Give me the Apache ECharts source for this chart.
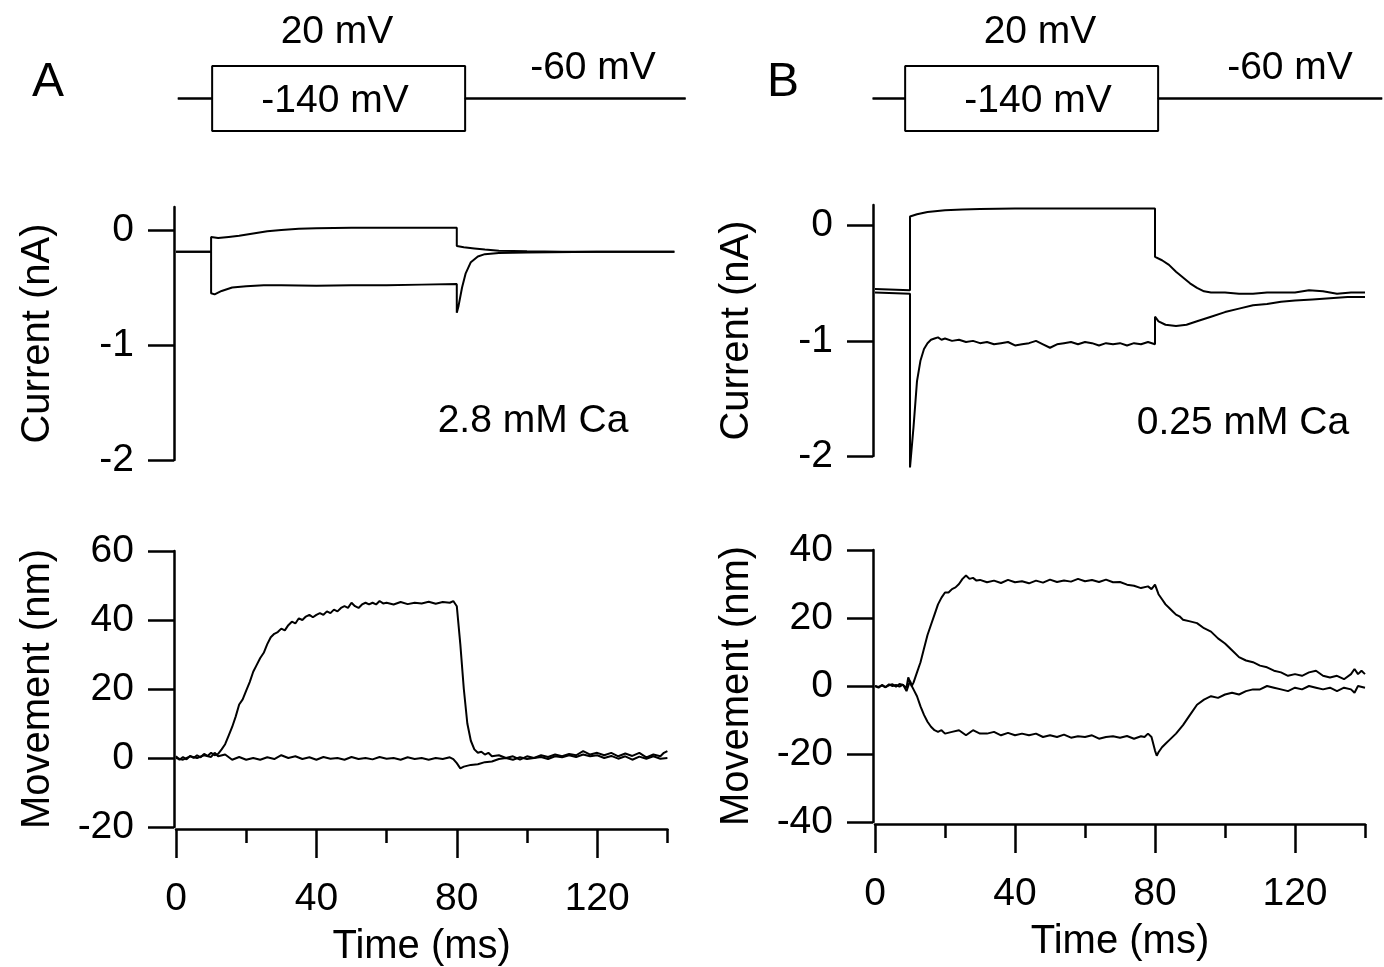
<!DOCTYPE html>
<html>
<head>
<meta charset="utf-8">
<script src="https://cdn.jsdelivr.net/npm/echarts@6/dist/echarts.min.js"></script>
<style>html,body{margin:0;padding:0;background:#fff;}#c{width:1384px;height:967px;}</style>
</head>
<body>
<div id="c"></div>
<script>
// ---- Voltage protocol (ms, mV) ----
const protoTimesA = [0.5, 10, 10, 80, 80, 141];
const protoTimesB = [1, 10, 10, 80, 80, 142];
const protoUp   = [-60, -60, 20, 20, -60, -60];
const protoDown = [-60, -60, -140, -140, -60, -60];

// ---- Panel A: current (nA), 2.8 mM Ca ----
const curA_up = [[0,-0.19],[10,-0.19],[10,-0.06],[12,-0.07],[15,-0.06],[18,-0.05],[22,-0.03],[26,-0.01],[30,0.0],[35,0.01],[40,0.015],[50,0.02],[60,0.02],[70,0.02],[80,0.02],[80,-0.14],[82,-0.15],[85,-0.16],[88,-0.17],[92,-0.18],[100,-0.185],[110,-0.19],[120,-0.19],[130,-0.19],[142,-0.19]];
const curA_down = [[0,-0.19],[10,-0.19],[10,-0.55],[11,-0.56],[13,-0.53],[16,-0.5],[20,-0.49],[25,-0.48],[30,-0.48],[40,-0.485],[50,-0.48],[60,-0.48],[70,-0.475],[80,-0.47],[80,-0.72],[80.5,-0.66],[81.5,-0.5],[82.5,-0.38],[84,-0.28],[86,-0.23],[88,-0.21],[92,-0.2],[100,-0.195],[120,-0.19],[142,-0.19]];

// ---- Panel A: movement (nm) ----
const movA_up = [[0,0.5],[1,-0.5],[2,0.3],[3,-0.4],[4,0.6],[5,0],[6,0.8],[7,0.2],[8,1.2],[9,0.6],[10,1.5],[11,0.8],[12,1.2],[13,2.5],[14,4],[15,6.5],[16,9],[17,12],[18,15.5],[19,17],[20,19.5],[21,22],[22,25],[23,27],[24,29],[25,30.5],[26,33],[27,35],[28,36],[29,36.5],[30,37.5],[31,37],[32,38.5],[33,39.5],[34,39],[35,40.5],[36,40],[37,41],[38,41.5],[39,40.8],[40,41.5],[41,42],[42,41.5],[43,42.5],[44,42],[45,43],[46,42.5],[47,43.5],[48,44],[49,43.5],[50,45],[51,44],[52,43.5],[53,44.5],[54,45],[55,44.5],[56,45],[57,44.5],[58,45.5],[59,44.8],[60,45],[62,44.5],[64,45.2],[66,44.6],[68,45],[70,44.8],[72,45.3],[74,44.7],[76,45.2],[78,45],[79,45.5],[80,44],[81,33],[82,20],[83,10],[84,5],[85,2.5],[86,1.5],[87,1.8],[88,1],[89,1.5],[90,0.5],[92,0.8],[94,0],[96,0.5],[98,-0.5],[100,0.5],[102,0],[104,0.8],[106,0.3],[108,1],[110,0.5],[112,1.2],[114,0.8],[116,2],[118,1],[120,1.5],[122,0.8],[124,1.5],[126,0.5],[128,1.3],[130,0.6],[132,1.5],[134,0.2],[136,1],[138,0.5],[139,1.5],[140,2]];
const movA_down = [[0,0],[2,-0.5],[4,0.5],[6,0],[8,0.8],[10,0.3],[11,1.5],[12,0.5],[14,1],[16,-0.5],[18,0.3],[20,-0.5],[22,0],[24,-0.5],[26,0.2],[28,-0.3],[30,0.8],[32,0],[34,0.5],[36,-0.3],[38,0.2],[40,-0.5],[42,0.3],[44,-0.2],[46,0],[48,-0.5],[50,0.3],[52,-0.3],[54,0],[56,-0.4],[58,0.3],[60,-0.2],[62,0],[64,-0.5],[66,0.2],[68,-0.3],[70,0],[72,-0.5],[74,0],[76,-0.3],[78,0.2],[79,-0.3],[80,-1.5],[81,-3],[82,-2.5],[84,-2],[86,-1.8],[88,-1.2],[90,-1],[92,-0.3],[94,0],[96,-0.5],[98,0.2],[100,-0.3],[102,0],[104,0.3],[106,-0.3],[108,0.5],[110,0.2],[112,0.8],[114,0.3],[116,1],[118,0.5],[120,0.8],[122,0],[124,0.6],[126,-0.2],[128,0.5],[130,-0.5],[132,0.4],[134,-0.2],[136,0.5],[138,-0.2],[140,0]];

// ---- Panel B: current (nA), 0.25 mM Ca ----
const curB_up = [[0,-0.55],[10,-0.56],[10,0.08],[12,0.1],[15,0.12],[20,0.135],[25,0.14],[30,0.145],[40,0.15],[50,0.15],[60,0.15],[70,0.15],[80,0.15],[80,-0.27],[82,-0.3],[84,-0.34],[86,-0.4],[88,-0.45],[90,-0.5],[92,-0.54],[94,-0.57],[96,-0.58],[100,-0.58],[104,-0.59],[108,-0.59],[112,-0.58],[116,-0.58],[120,-0.58],[124,-0.56],[128,-0.57],[132,-0.59],[136,-0.58],[140,-0.58]];
const curB_down = [[0,-0.58],[10,-0.59],[10,-2.1],[11,-1.75],[12,-1.35],[13,-1.17],[14,-1.07],[15,-1.02],[16,-0.99],[17,-0.98],[18,-0.97],[19,-0.99],[20,-0.98],[22,-1.0],[24,-0.99],[26,-1.01],[28,-1.0],[30,-1.02],[32,-1.01],[34,-1.03],[36,-1.02],[38,-1.01],[40,-1.04],[42,-1.03],[44,-1.02],[46,-1.0],[48,-1.03],[50,-1.06],[52,-1.03],[54,-1.02],[56,-1.01],[58,-1.03],[60,-1.01],[62,-1.02],[64,-1.04],[66,-1.02],[68,-1.03],[70,-1.02],[72,-1.04],[74,-1.02],[76,-1.03],[78,-1.01],[80,-1.03],[80,-0.79],[81,-0.83],[83,-0.86],[86,-0.87],[89,-0.86],[92,-0.83],[96,-0.79],[100,-0.75],[104,-0.72],[108,-0.69],[112,-0.68],[116,-0.66],[120,-0.65],[125,-0.64],[130,-0.63],[135,-0.62],[140,-0.62]];

// ---- Panel B: movement (nm) ----
const movB_up = [[0,0],[1,-0.5],[2,0.3],[3,-0.3],[4,0.2],[5,0.5],[6,-0.2],[7,0.6],[8,0.3],[9,-0.5],[9.5,2.5],[10,3],[10.5,0],[11,1],[12,4],[13,7],[14,11],[15,15],[16,18],[17,21],[18,24],[19,26],[20,27.5],[21,27.5],[22,28.5],[23,29],[24,30],[25,31.5],[26,32.5],[27,31.5],[28,31.8],[29,31],[30,31.2],[32,30.5],[34,31],[36,30.3],[38,31.2],[40,30.5],[42,30.8],[44,30.2],[46,31],[48,30.4],[50,31.3],[52,30.6],[54,31],[56,30.7],[58,31.5],[60,30.8],[62,31.2],[64,30.6],[66,31.3],[68,30.5],[70,30.6],[72,29.8],[74,29.5],[76,28.8],[78,29.3],[79,28.5],[80,29.8],[81,27],[82,25.5],[83,24],[84,23],[85,22],[86,21],[87,20.5],[88,19.5],[90,19],[92,18.5],[94,17],[96,16],[98,14],[100,12.5],[102,10.5],[104,8.5],[106,7.5],[108,7],[110,6],[112,5.5],[114,4.5],[116,4],[118,3],[120,3.5],[122,3],[124,4],[126,4.5],[128,3],[130,2.5],[132,3],[134,2],[136,3.5],[137,5],[138,3.5],[139,4.5],[140,3.5]];
const movB_down = [[0,0],[1,-0.3],[2,0.2],[3,-0.4],[4,0.5],[5,0],[6,0.3],[7,-0.2],[8,0.4],[9,-1.5],[9.5,-2],[10,1.5],[10.5,0],[11,-1],[12,-3],[13,-6],[14,-8.5],[15,-10.5],[16,-12],[17,-13],[18,-13.5],[19,-13],[20,-14],[22,-13.5],[24,-13],[26,-14.5],[28,-13],[30,-14],[32,-14],[34,-13.5],[36,-14.5],[38,-13.8],[40,-14.5],[42,-14],[44,-14.5],[46,-14],[48,-15],[50,-14.5],[52,-15],[54,-14.3],[56,-15.2],[58,-14.8],[60,-15],[62,-14.5],[64,-15.5],[66,-15],[68,-14.8],[70,-15.2],[72,-14.7],[74,-15.5],[76,-14.8],[77,-15],[78,-14],[79,-15],[80,-19],[80.5,-20.5],[81,-19.5],[82,-18],[83,-17],[84,-16],[86,-14],[88,-11.5],[90,-8.5],[92,-5.5],[94,-4],[96,-3],[98,-3.5],[100,-2.5],[102,-2],[104,-2.5],[106,-1.5],[108,-1],[110,-1],[112,0],[114,-0.5],[116,-1],[118,-1.5],[120,-0.5],[122,-1],[124,0],[126,-0.5],[128,-1],[130,-0.5],[132,-1.5],[134,-0.5],[136,-1],[137,-2],[138,0],[140,-0.5]];

// ---- Tick labels ----
const timeMajorTicks = [0, 40, 80, 120];
const timeMinorTicks = [20, 60, 100, 140];
const currentTicks = [-2, -1, 0];
const movATicks = [-20, 0, 20, 40, 60];
const movBTicks = [-40, -20, 0, 20, 40];

const FONT = 'Liberation Sans';
const BLACK = '#000';
const TICK_FS = 39, NAME_FS = 40, TXT_FS = 39;
const axisLine = {show: true, onZero: false, lineStyle: {color: BLACK, width: 2.5}};

function zip(t, v) { return t.map((x, i) => [x, v[i]]); }

function hiddenX(grid, min, max) {
  return {type: 'value', gridIndex: grid, min: min, max: max, show: false};
}
function hiddenY(grid, min, max) {
  return {type: 'value', gridIndex: grid, min: min, max: max, show: false};
}
function timeMajor(grid) {
  return {type: 'value', gridIndex: grid, min: 0, max: 140, position: 'bottom', offset: 2,
    axisLine: axisLine, splitLine: {show: false},
    axisTick: {show: true, length: 29, lineStyle: {color: BLACK, width: 2.5}, customValues: timeMajorTicks},
    axisLabel: {show: true, customValues: timeMajorTicks, color: BLACK, fontSize: TICK_FS, fontFamily: FONT, margin: 51},
    name: 'Time (ms)', nameLocation: 'middle', nameGap: 98,
    nameTextStyle: {color: BLACK, fontSize: NAME_FS, fontFamily: FONT}};
}
function timeMinor(grid) {
  return {type: 'value', gridIndex: grid, min: 0, max: 140, position: 'bottom', offset: 2,
    axisLine: {show: false, onZero: false}, splitLine: {show: false},
    axisTick: {show: true, length: 14, lineStyle: {color: BLACK, width: 2.5}, customValues: timeMinorTicks},
    axisLabel: {show: false}};
}
function yAx(grid, min, max, ticks, name, nameGap) {
  return {type: 'value', gridIndex: grid, min: min, max: max, position: 'left', offset: 2,
    axisLine: axisLine, splitLine: {show: false},
    axisTick: {show: true, length: 26, lineStyle: {color: BLACK, width: 2.5}, customValues: ticks},
    axisLabel: {show: true, customValues: ticks, color: BLACK, fontSize: TICK_FS, fontFamily: FONT, margin: 40},
    name: name, nameLocation: 'middle', nameGap: nameGap,
    nameTextStyle: {color: BLACK, fontSize: NAME_FS, fontFamily: FONT}};
}
function line(data, xi, yi) {
  return {type: 'line', data: data, xAxisIndex: xi, yAxisIndex: yi, symbol: 'none',
    lineStyle: {color: BLACK, width: 2}, clip: false, silent: true, animation: false};
}
function txt(s, x, y, size) {
  return {type: 'text', x: x, y: y, silent: true,
    style: {text: s, fill: BLACK, fontSize: size, fontFamily: FONT, align: 'center', verticalAlign: 'middle'}};
}
function grid(left, top, width, height) {
  return {left: left, top: top, width: width, height: height, containLabel: false, outerBoundsMode: 'none'};
}

const option = {
  backgroundColor: '#fff',
  animation: false,
  grid: [
    grid(176, 66, 509.6, 65),    // 0 protocol A
    grid(176, 207, 498.4, 253),  // 1 current A
    grid(176, 551, 491.4, 276),  // 2 movement A
    grid(869, 66, 513.2, 65),    // 3 protocol B
    grid(875, 205, 490, 251),    // 4 current B
    grid(875, 550, 490, 272)     // 5 movement B
  ],
  xAxis: [
    hiddenX(0, 0, 141),   // 0
    hiddenX(1, 0, 142),   // 1
    timeMajor(2),         // 2
    timeMinor(2),         // 3
    hiddenX(3, 0, 142),   // 4
    hiddenX(4, 0, 140),   // 5
    timeMajor(5),         // 6
    timeMinor(5)          // 7
  ],
  yAxis: [
    hiddenY(0, -140, 20),                                        // 0
    yAx(1, -2, 0.2, currentTicks, 'Current (nA)', 116),          // 1
    yAx(2, -20, 60, movATicks, 'Movement (nm)', 116),            // 2
    hiddenY(3, -140, 20),                                        // 3
    yAx(4, -2, 0.18, currentTicks, 'Current (nA)', 116),         // 4
    yAx(5, -40, 40, movBTicks, 'Movement (nm)', 116)             // 5
  ],
  series: [
    line(zip(protoTimesA, protoUp), 0, 0),
    line(zip(protoTimesA, protoDown), 0, 0),
    line(curA_up, 1, 1),
    line(curA_down, 1, 1),
    line(movA_up, 2, 2),
    line(movA_down, 2, 2),
    line(zip(protoTimesB, protoUp), 4, 3),
    line(zip(protoTimesB, protoDown), 4, 3),
    line(curB_up, 5, 4),
    line(curB_down, 5, 4),
    line(movB_up, 6, 5),
    line(movB_down, 6, 5)
  ],
  graphic: [
    txt('A', 48, 83, 48),
    txt('B', 783, 83, 48),
    txt('20 mV', 337, 32, TXT_FS),
    txt('-140 mV', 335, 101, TXT_FS),
    txt('-60 mV', 593, 68, TXT_FS),
    txt('20 mV', 1040, 32, TXT_FS),
    txt('-140 mV', 1038, 101, TXT_FS),
    txt('-60 mV', 1290, 68, TXT_FS),
    txt('2.8 mM Ca', 533, 421, TXT_FS),
    txt('0.25 mM Ca', 1243, 423, TXT_FS)
  ]
};

const chart = echarts.init(document.getElementById('c'), null, {renderer: 'canvas'});
chart.setOption(option);
</script>
</body>
</html>
